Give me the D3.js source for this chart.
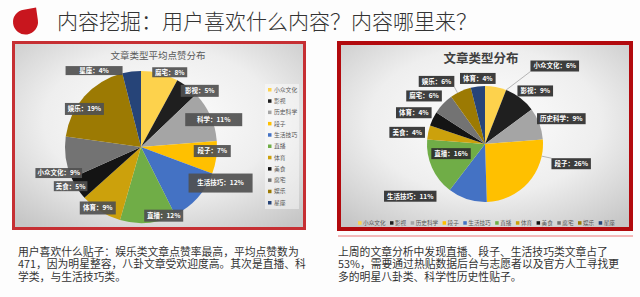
<!DOCTYPE html>
<html>
<head>
<meta charset="utf-8">
<script src="https://cdn.jsdelivr.net/npm/d3@7"></script>
<style>
  html, body { margin: 0; padding: 0; background: #fff; }
  svg { display: block; font-family: "Noto Sans CJK SC", "Noto Sans", sans-serif; }
</style>
</head>
<body>
<div class="slide"></div>
<script>
// categories (legend order, same for both pies)
var categories = ["小众文化", "影视", "历史科学", "段子", "生活技巧", "直播", "体育", "美食", "腐宅", "娱乐", "星座"];

// left pie: average likes share (%), labels as printed on the slices
var likeShare  = [8, 5, 11, 7, 12, 12, 9, 5, 9, 19, 4];
var likeLabels = ["腐宅", "影视", "科学", "段子", "生活技巧", "直播", "体育", "美食", "小众文化", "娱乐", "星座"];

// right pie: article count share (%)
var countShare  = [6, 9, 9, 26, 11, 16, 4, 4, 6, 6, 4];
var countLabels = ["小众文化", "影视", "历史科学", "段子", "生活技巧", "直播", "美食", "体育", "腐宅", "娱乐", "体育"];

var headline = "内容挖掘：用户喜欢什么内容？内容哪里来？";
var leftTitle = "文章类型平均点赞分布";
var rightTitle = "文章类型分布";
var leftCaption = ["用户喜欢什么贴子：娱乐类文章点赞率最高，平均点赞数为",
  "471，因为明星整容，八卦文章受欢迎度高。其次是直播、科",
  "学类，与生活技巧类。"];
var rightCaption = ["上周的文章分析中发现直播、段子、生活技巧类文章占了",
  "53%，需要通过热贴数据后台与志愿者以及官方人工寻找更",
  "多的明星八卦类、科学性历史性贴子。"];

var colors = ["#fdd24c", "#1f1f1f", "#a5a5a5", "#ffc000", "#4472c4", "#70ad47",
  "#cca10c", "#141414", "#737373", "#9c7a03", "#264478"];

// label nudges (px) from the slice centroid, like excel's "best fit"
var leftNudge = [[11,-5],[15,1],[7,2],[0,-6],[26,-12],[16,-3],[-5,0],[-10,0],[-11,16],[-3,10],[-38,-5]];
var leftBoxW  = [35, 38, 57, 37, 64, 39, 36, 33, 46, 39, 57];
var leftBoxH  = [10, 12, 13, 12, 19, 12, 13, 10, 10, 12, 9];
var rightNudge = [[59,-21],[15,-7],[22,-5],[43,-19],[-57,-3],[19,-14],[-21,0],[-19,-6],[-19,-8],[-24,-10],[0,-8]];
var rightLeader = [true, false, false, true, false, false, false, false, false, true, false];

var width = 640, height = 297;

var svg = d3.select(".slide").append("svg")
  .attr("width", width)
  .attr("height", height);

var defs = svg.append("defs");
var grad = defs.append("radialGradient")
  .attr("id", "panel")
  .attr("cx", "50%").attr("cy", "42%").attr("r", "72%");
grad.append("stop").attr("offset", "0%").attr("stop-color", "#ffffff");
grad.append("stop").attr("offset", "55%").attr("stop-color", "#eeeeee");
grad.append("stop").attr("offset", "100%").attr("stop-color", "#c6c6c6");

svg.append("rect").attr("width", width).attr("height", height).attr("fill", "#fdfdfd");

// headline with red drop icon
svg.append("path")
  .attr("d", "M38,9 L38,22 A12.5,12.5 0 1 1 25.5,9.5 Z")
  .attr("transform", "rotate(-8,26,22)")
  .attr("fill", "#c8161e");

svg.append("text")
  .attr("x", 57).attr("y", 29)
  .attr("font-size", 21)
  .attr("font-weight", 300)
  .attr("fill", "#333")
  .text(headline);

// panels
svg.append("rect")
  .attr("x", 13.5).attr("y", 42.5).attr("width", 291).attr("height", 186)
  .attr("fill", "url(#panel)")
  .attr("stroke", "#c62f33").attr("stroke-width", 3);

svg.append("rect")
  .attr("x", 339).attr("y", 43).attr("width", 292).attr("height", 186)
  .attr("fill", "url(#panel)")
  .attr("stroke", "#b20a0e").attr("stroke-width", 4);

svg.append("line")
  .attr("x1", 338).attr("x2", 633).attr("y1", 236).attr("y2", 236)
  .attr("stroke", "#f4b8b8").attr("stroke-width", 2);

function drawPie(cfg) {
  var g = svg.append("g")
    .attr("transform", "translate(" + cfg.cx + "," + cfg.cy + ")");

  var arcs = d3.pie().sort(null).value(function(d) { return d; })(cfg.values);

  var arc = d3.arc().innerRadius(0).outerRadius(cfg.r);
  var labelArc = d3.arc().innerRadius(cfg.r * cfg.k).outerRadius(cfg.r * cfg.k);

  g.selectAll("path.slice")
    .data(arcs)
    .enter()
    .append("path")
    .attr("class", "slice")
    .attr("d", arc)
    .attr("fill", function(d, i) { return colors[i]; });

  var labels = g.selectAll("g.lbl")
    .data(arcs)
    .enter()
    .append("g")
    .attr("class", "lbl")
    .attr("transform", function(d, i) {
      var c = labelArc.centroid(d);
      return "translate(" + (c[0] + cfg.nudge[i][0]) + "," + (c[1] + cfg.nudge[i][1]) + ")";
    });

  labels.each(function(d, i) {
    var lg = d3.select(this);
    var t = lg.append("text")
      .attr("text-anchor", "middle")
      .attr("dy", "0.36em")
      .attr("font-size", cfg.fontSize)
      .attr("font-weight", "bold")
      .attr("fill", "#fff")
      .text(cfg.labels[i] + "：" + cfg.values[i] + "%");
    var tw = t.node().getComputedTextLength();
    var w = cfg.boxW ? Math.max(cfg.boxW[i], tw + 4) : tw + 6;
    var h = cfg.boxH ? cfg.boxH[i] : 11;
    lg.insert("rect", "text")
      .attr("x", -w / 2).attr("y", -h / 2)
      .attr("width", w).attr("height", h)
      .attr("fill", cfg.boxFill)
      .attr("fill-opacity", 0.92);

    if (cfg.leader && cfg.leader[i]) {
      // line from the slice edge to the nearest side of the label box
      var c = labelArc.centroid(d);
      var bx = c[0] + cfg.nudge[i][0], by = c[1] + cfg.nudge[i][1];
      var px = Math.max(bx - w / 2, Math.min(0, bx + w / 2));
      var py = Math.max(by - h / 2, Math.min(0, by + h / 2));
      var a = Math.atan2(px, -py);
      if (a < 0) a += 2 * Math.PI;
      a = Math.max(d.startAngle, Math.min(d.endAngle, a));
      g.insert("line", "g.lbl")
        .attr("x1", Math.sin(a) * cfg.r).attr("y1", -Math.cos(a) * cfg.r)
        .attr("x2", px).attr("y2", py)
        .attr("stroke", "#9a9a9a").attr("stroke-width", 0.7);
    }
  });
}

// left chart
svg.append("text")
  .attr("x", 158).attr("y", 58.5)
  .attr("text-anchor", "middle")
  .attr("font-size", 9.5)
  .attr("fill", "#595959")
  .text(leftTitle);

drawPie({
  cx: 141, cy: 147, r: 76, k: 0.947,
  values: likeShare, labels: likeLabels,
  nudge: leftNudge, boxW: leftBoxW, boxH: leftBoxH,
  fontSize: 6.5, boxFill: "#505050",
  leader: [false, false, false, false, false, false, false, false, false, false, true]
});

// left legend (vertical)
svg.append("rect")
  .attr("x", 265).attr("y", 84).attr("width", 34).attr("height", 125)
  .attr("fill", "#ffffff").attr("fill-opacity", 0.45);

var legL = svg.selectAll("g.legL")
  .data(categories)
  .enter()
  .append("g")
  .attr("class", "legL")
  .attr("transform", function(d, i) { return "translate(268," + (90 + i * 11.3) + ")"; });

legL.append("rect")
  .attr("x", 0).attr("y", -2).attr("width", 3.5).attr("height", 3.5)
  .attr("fill", function(d, i) { return colors[i]; });

legL.append("text")
  .attr("x", 6).attr("dy", "0.3em")
  .attr("font-size", 5.8)
  .attr("fill", "#595959")
  .text(function(d) { return d; });

// right chart
svg.append("text")
  .attr("x", 481).attr("y", 63)
  .attr("text-anchor", "middle")
  .attr("font-size", 12.5)
  .attr("font-weight", "bold")
  .attr("fill", "#404040")
  .text(rightTitle);

drawPie({
  cx: 485, cy: 144, r: 58, k: 1.0,
  values: countShare, labels: countLabels,
  nudge: rightNudge, fontSize: 6.5, boxFill: "#2e2e2e",
  leader: rightLeader
});

// right legend (horizontal, centred)
var legR = svg.append("g").attr("class", "legR");
var xPos = 0;
categories.forEach(function(c, i) {
  var item = legR.append("g").attr("transform", "translate(" + xPos + ",0)");
  item.append("rect")
    .attr("x", 0).attr("y", -1.8).attr("width", 3.5).attr("height", 3.5)
    .attr("fill", colors[i]);
  var t = item.append("text")
    .attr("x", 5).attr("dy", "0.32em")
    .attr("font-size", 5.6)
    .attr("fill", "#595959")
    .text(c);
  xPos += 5 + t.node().getComputedTextLength() + 4.5;
});
xPos -= 4.5;
legR.attr("transform", "translate(" + (486.5 - xPos / 2) + ",223)");

// captions
function caption(x, lines) {
  var t = svg.append("text")
    .attr("x", x).attr("y", 255.5)
    .attr("font-size", 10.8)
    .attr("fill", "#333");
  lines.forEach(function(l, i) {
    t.append("tspan").attr("x", x).attr("dy", i === 0 ? 0 : 12.6).text(l);
  });
}
caption(18, leftCaption);
caption(338, rightCaption);
</script>
</body>
</html>
